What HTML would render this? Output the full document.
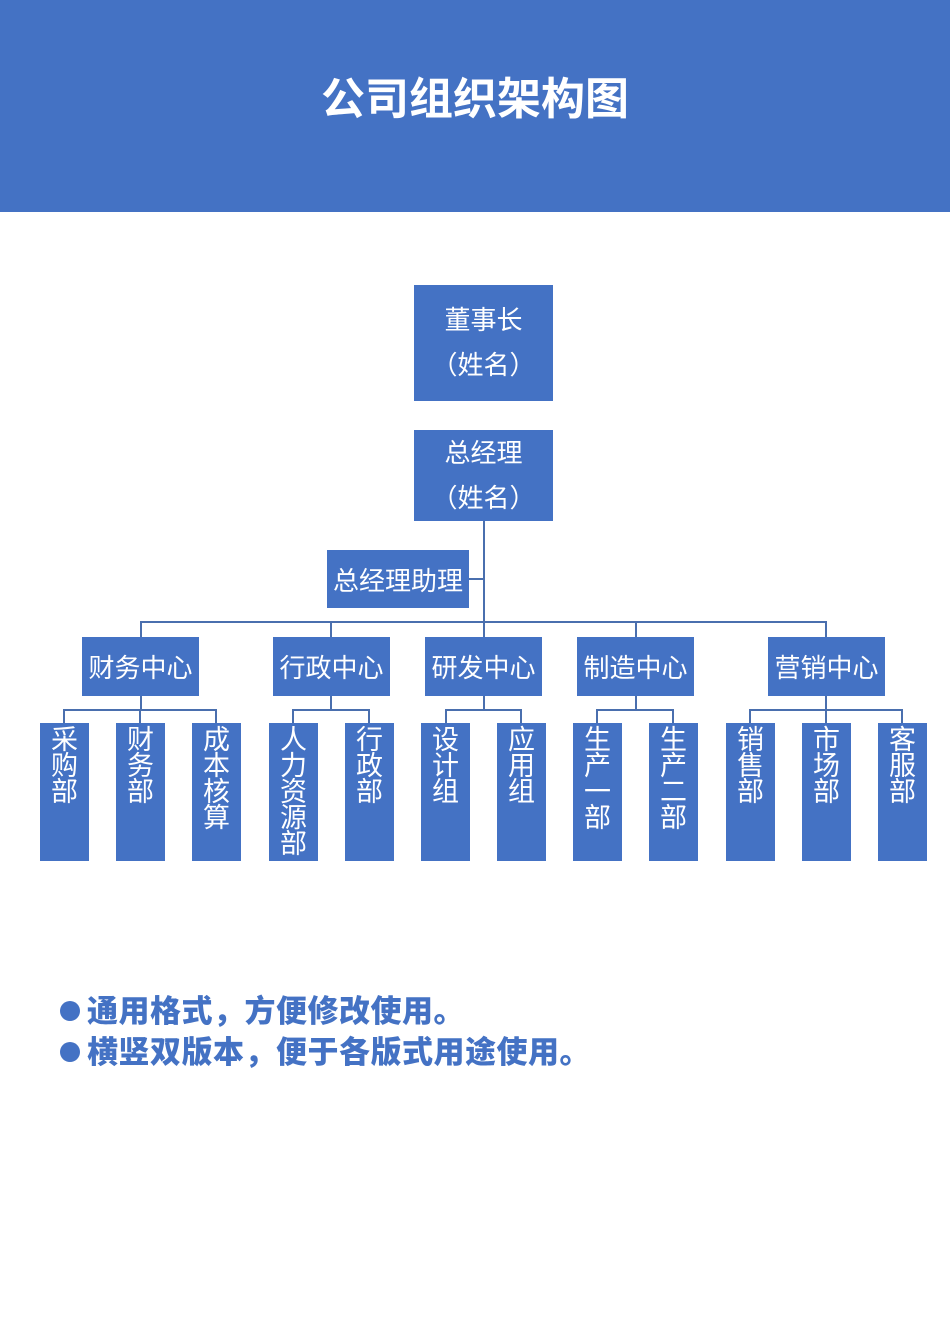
<!DOCTYPE html>
<html><head><meta charset="utf-8"><style>
body{margin:0;width:950px;height:1344px;position:relative;background:#fff;font-family:"Liberation Sans","Noto Sans CJK SC",sans-serif;overflow:hidden}
.hd{position:absolute;left:0;top:0;width:950px;height:212px;background:#4472C4}
.tt{position:absolute;left:0;top:70px;width:950px;text-align:center;color:#fff;font-size:44px;font-weight:bold;line-height:60px}
.b{position:absolute;background:#4472C4;color:#fff;text-align:center;display:flex;align-items:center;justify-content:center;font-size:26px;box-sizing:border-box}
.l{position:absolute;background:#4472C4;color:#fff;top:723px;width:49px;height:138px;font-size:27px;line-height:26px;text-align:center;padding-top:4px;box-sizing:border-box;word-break:break-all}
.bl{position:absolute;left:60px;color:#4472C4;font-size:31px;font-weight:900;line-height:41px;letter-spacing:0.5px}
.dot{display:inline-block;width:20px;height:20px;border-radius:50%;background:#4472C4;margin-right:7px;vertical-align:1px}
</style></head><body>
<div class="hd"></div><div class="tt">公司组织架构图</div>
<svg style="position:absolute;left:0;top:0" width="950" height="1344">
<g stroke="#4A6FAE" stroke-width="2" fill="none">
<line x1="484" y1="521" x2="484" y2="622"/>
<line x1="469" y1="579" x2="484" y2="579"/>
<polyline points="141,637 141,622 826,622 826,637"/>
<line x1="331" y1="622" x2="331" y2="637"/><line x1="484" y1="622" x2="484" y2="637"/><line x1="636" y1="622" x2="636" y2="637"/>
<line x1="141" y1="696" x2="141" y2="710"/><polyline points="64,723 64,710 216,710 216,723"/><line x1="140" y1="710" x2="140" y2="723"/>
<line x1="331" y1="696" x2="331" y2="710"/><polyline points="293,723 293,710 369,710 369,723"/>
<line x1="484" y1="696" x2="484" y2="710"/><polyline points="446,723 446,710 521,710 521,723"/>
<line x1="636" y1="696" x2="636" y2="710"/><polyline points="597,723 597,710 673,710 673,723"/>
<line x1="826" y1="696" x2="826" y2="723"/><polyline points="750,723 750,710 902,710 902,723"/>
</g></svg>
<div class="b" style="left:414px;top:285px;width:139px;height:116px;line-height:45px">董事长<br>（姓名）</div>
<div class="b" style="left:414px;top:430px;width:139px;height:91px;line-height:45px">总经理<br>（姓名）</div>
<div class="b" style="left:327px;top:550px;width:142px;height:58px">总经理助理</div>
<div class="b" style="left:82px;top:637px;width:117px;height:59px">财务中心</div>
<div class="b" style="left:273px;top:637px;width:117px;height:59px">行政中心</div>
<div class="b" style="left:425px;top:637px;width:117px;height:59px">研发中心</div>
<div class="b" style="left:577px;top:637px;width:117px;height:59px">制造中心</div>
<div class="b" style="left:768px;top:637px;width:117px;height:59px">营销中心</div>
<div class="l" style="left:40px">采<br>购<br>部</div>
<div class="l" style="left:116px">财<br>务<br>部</div>
<div class="l" style="left:192px">成<br>本<br>核<br>算</div>
<div class="l" style="left:269px">人<br>力<br>资<br>源<br>部</div>
<div class="l" style="left:345px">行<br>政<br>部</div>
<div class="l" style="left:421px">设<br>计<br>组</div>
<div class="l" style="left:497px">应<br>用<br>组</div>
<div class="l" style="left:573px">生<br>产<br>一<br>部</div>
<div class="l" style="left:649px">生<br>产<br>二<br>部</div>
<div class="l" style="left:726px">销<br>售<br>部</div>
<div class="l" style="left:802px">市<br>场<br>部</div>
<div class="l" style="left:878px">客<br>服<br>部</div>
<div class="bl" style="top:991px"><span class="dot"></span>通用格式，方便修改使用。</div>
<div class="bl" style="top:1032px"><span class="dot"></span>横竖双版本，便于各版式用途使用。</div>
</body></html>
